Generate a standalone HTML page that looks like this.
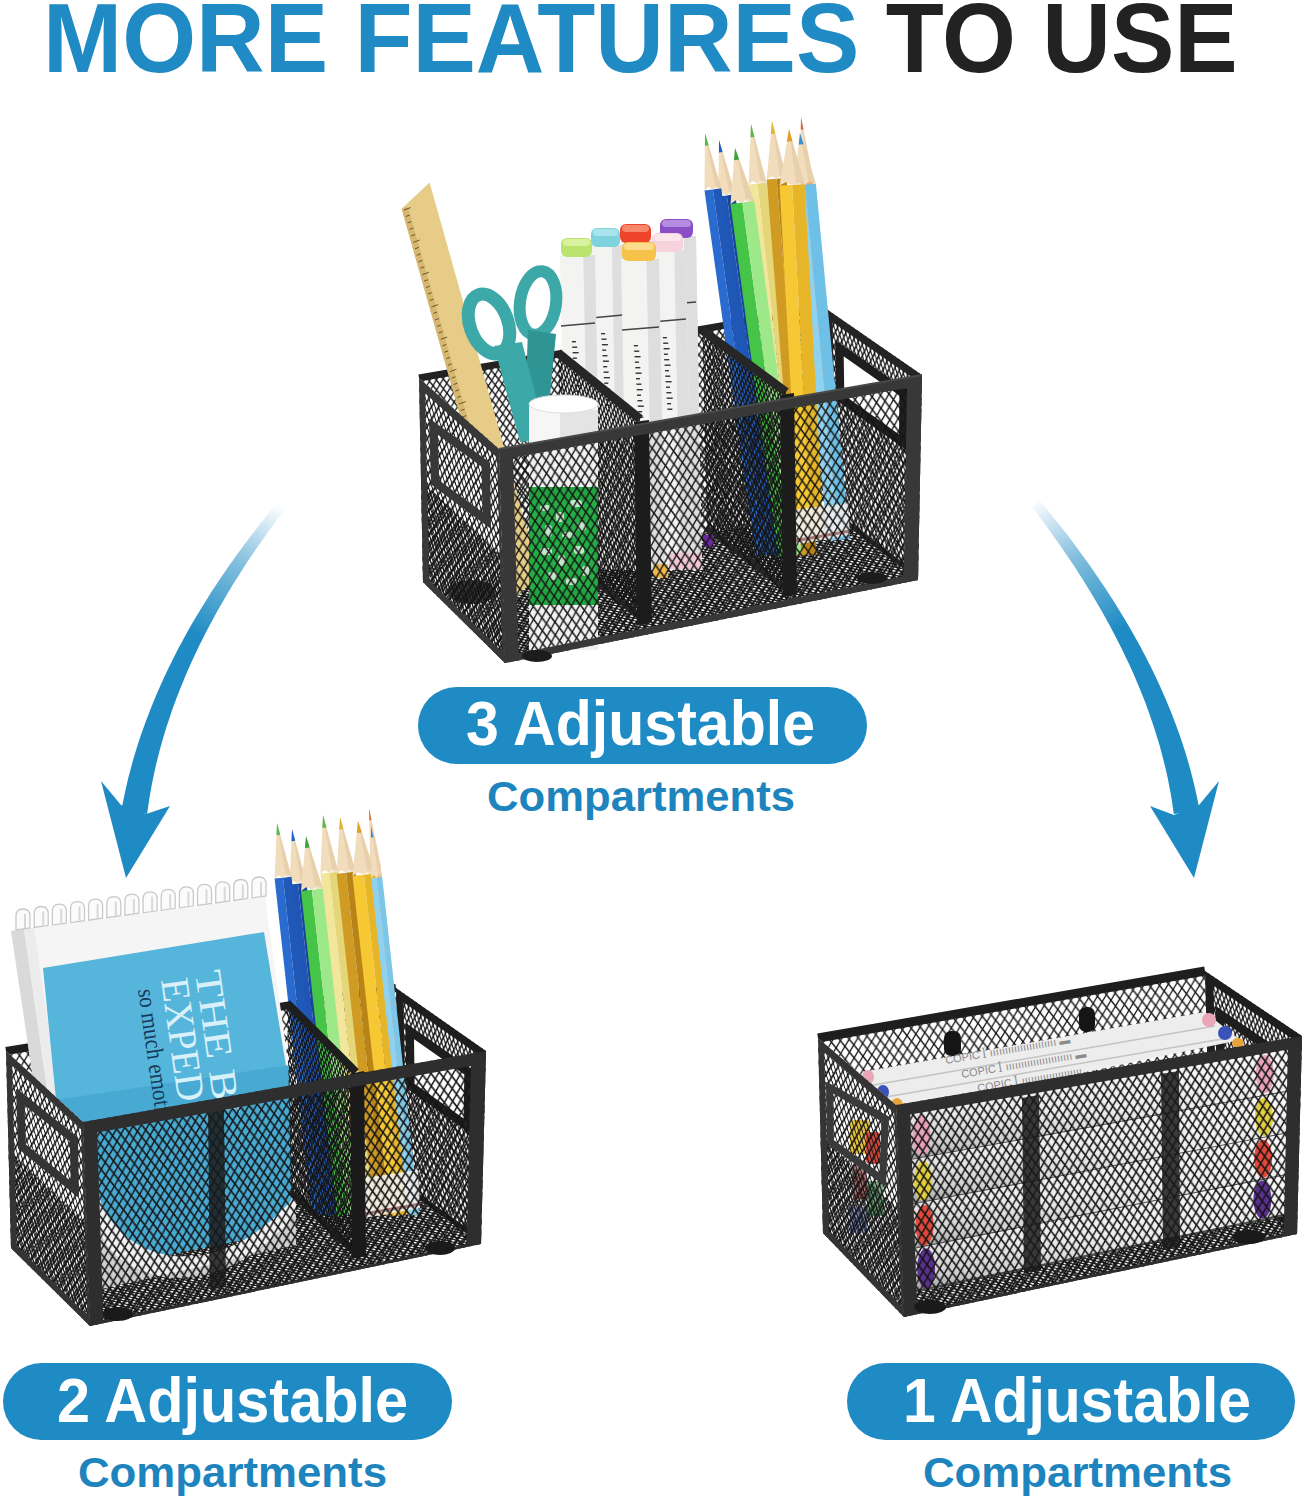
<!DOCTYPE html><html><head><meta charset="utf-8"><style>
html,body{margin:0;padding:0;background:#fff;width:1308px;height:1500px;overflow:hidden;position:relative}
.t{position:absolute;font-family:"Liberation Sans",sans-serif;font-weight:bold;white-space:nowrap;line-height:1}
</style></head><body>
<svg width="1308" height="1500" viewBox="0 0 1308 1500" style="position:absolute;left:0;top:0">
<defs><linearGradient id="ga" gradientUnits="userSpaceOnUse" x1="279" y1="505" x2="205" y2="640"><stop offset="0" stop-color="#1e8bc4" stop-opacity="0"/><stop offset="0.45" stop-color="#1e8bc4" stop-opacity="0.55"/><stop offset="1" stop-color="#1e8bc4" stop-opacity="1"/></linearGradient><linearGradient id="gb" gradientUnits="userSpaceOnUse" x1="1034" y1="500" x2="1110" y2="635"><stop offset="0" stop-color="#1e8bc4" stop-opacity="0"/><stop offset="0.45" stop-color="#1e8bc4" stop-opacity="0.55"/><stop offset="1" stop-color="#1e8bc4" stop-opacity="1"/></linearGradient><pattern id="m1" patternUnits="userSpaceOnUse" width="7" height="10" patternTransform="matrix(0.9855 -0.1699 0.0196 0.9998 419.0 378.0)"><path d="M0,0L7,10M7,0L0,10" stroke="#141414" stroke-width="1.3" fill="none"/></pattern><pattern id="m2" patternUnits="userSpaceOnUse" width="7" height="5" patternTransform="matrix(0.9855 -0.1699 0.7114 0.7028 423.0 582.0)"><path d="M0,0L7,5M7,0L0,5" stroke="#141414" stroke-width="1.7" fill="none"/></pattern><pattern id="m3" patternUnits="userSpaceOnUse" width="5" height="11" patternTransform="matrix(0.8228 0.5683 0.0196 0.9998 825.0 308.0)"><path d="M0,0L5,11M5,0L0,11" stroke="#141414" stroke-width="1.5" fill="none"/></pattern><pattern id="m4" patternUnits="userSpaceOnUse" width="4.5" height="10" patternTransform="matrix(0.8046 0.5939 0.0252 0.9997 702.0 330.0)"><path d="M0,0L4.5,10M4.5,0L0,10" stroke="#141414" stroke-width="1.5" fill="none"/></pattern><pattern id="m5" patternUnits="userSpaceOnUse" width="4.5" height="10" patternTransform="matrix(0.7790 0.6270 0.0246 0.9997 558.0 353.0)"><path d="M0,0L4.5,10M4.5,0L0,10" stroke="#141414" stroke-width="1.5" fill="none"/></pattern><pattern id="m6" patternUnits="userSpaceOnUse" width="5" height="8" patternTransform="matrix(0.7293 0.6842 0.0196 0.9998 421.0 480.0)"><path d="M0,0L5,8M5,0L0,8" stroke="#1a1a1a" stroke-width="1.5" fill="none"/></pattern><pattern id="m7" patternUnits="userSpaceOnUse" width="6.5" height="12" patternTransform="matrix(0.7479 0.6638 0.0196 0.9998 419.0 378.0)"><path d="M0,0L6.5,12M6.5,0L0,12" stroke="#141414" stroke-width="1.6" fill="none"/></pattern><pattern id="m8" patternUnits="userSpaceOnUse" width="8.6" height="13" patternTransform="matrix(0.9850 -0.1723 0.0280 0.9996 499.0 449.0)"><path d="M0,0L8.6,13M8.6,0L0,13" stroke="#141414" stroke-width="1.5" fill="none"/></pattern><pattern id="m9" patternUnits="userSpaceOnUse" width="9" height="13" patternTransform="matrix(0.9872 -0.1595 0.0254 0.9997 6.0 1051.0)"><path d="M0,0L9,13M9,0L0,13" stroke="#141414" stroke-width="1.4" fill="none"/></pattern><pattern id="m10" patternUnits="userSpaceOnUse" width="7" height="5" patternTransform="matrix(0.9875 -0.1574 0.7116 0.7026 11.0 1248.0)"><path d="M0,0L7,5M7,0L0,5" stroke="#141414" stroke-width="1.7" fill="none"/></pattern><pattern id="m11" patternUnits="userSpaceOnUse" width="5" height="11" patternTransform="matrix(0.8192 0.5735 0.0202 0.9998 396.0 988.0)"><path d="M0,0L5,11M5,0L0,11" stroke="#141414" stroke-width="1.5" fill="none"/></pattern><pattern id="m12" patternUnits="userSpaceOnUse" width="4.5" height="10" patternTransform="matrix(0.7071 0.7071 0.0212 0.9998 287.0 1003.0)"><path d="M0,0L4.5,10M4.5,0L0,10" stroke="#141414" stroke-width="1.5" fill="none"/></pattern><pattern id="m13" patternUnits="userSpaceOnUse" width="5" height="8" patternTransform="matrix(0.7231 0.6907 0.0254 0.9997 8.5 1149.5)"><path d="M0,0L5,8M5,0L0,8" stroke="#1a1a1a" stroke-width="1.5" fill="none"/></pattern><pattern id="m14" patternUnits="userSpaceOnUse" width="6.5" height="12" patternTransform="matrix(0.7352 0.6779 0.0254 0.9997 6.0 1051.0)"><path d="M0,0L6.5,12M6.5,0L0,12" stroke="#141414" stroke-width="1.6" fill="none"/></pattern><pattern id="m15" patternUnits="userSpaceOnUse" width="8.4" height="12.6" patternTransform="matrix(0.9848 -0.1735 0.0343 0.9994 83.0 1122.0)"><path d="M0,0L8.4,12.6M8.4,0L0,12.6" stroke="#141414" stroke-width="1.5" fill="none"/></pattern><pattern id="m16" patternUnits="userSpaceOnUse" width="9" height="13" patternTransform="matrix(0.9853 -0.1706 0.0256 0.9997 818.0 1038.0)"><path d="M0,0L9,13M9,0L0,13" stroke="#141414" stroke-width="1.4" fill="none"/></pattern><pattern id="m17" patternUnits="userSpaceOnUse" width="7" height="5" patternTransform="matrix(0.9862 -0.1656 0.6941 0.7198 823.0 1233.0)"><path d="M0,0L7,5M7,0L0,5" stroke="#141414" stroke-width="1.7" fill="none"/></pattern><pattern id="m18" patternUnits="userSpaceOnUse" width="5" height="11" patternTransform="matrix(0.8307 0.5567 0.0254 0.9997 1205.0 971.0)"><path d="M0,0L5,11M5,0L0,11" stroke="#141414" stroke-width="1.5" fill="none"/></pattern><linearGradient id="mk" x1="0" y1="0" x2="0" y2="1"><stop offset="0" stop-color="#fafafa"/><stop offset="0.55" stop-color="#ececec"/><stop offset="0.85" stop-color="#cfcfcf"/><stop offset="1" stop-color="#9c9c9c"/></linearGradient><pattern id="m19" patternUnits="userSpaceOnUse" width="5" height="8" patternTransform="matrix(0.7251 0.6886 0.0256 0.9997 820.5 1135.5)"><path d="M0,0L5,8M5,0L0,8" stroke="#1a1a1a" stroke-width="1.5" fill="none"/></pattern><pattern id="m20" patternUnits="userSpaceOnUse" width="6.5" height="12" patternTransform="matrix(0.7586 0.6516 0.0256 0.9997 818.0 1038.0)"><path d="M0,0L6.5,12M6.5,0L0,12" stroke="#141414" stroke-width="1.6" fill="none"/></pattern><pattern id="m21" patternUnits="userSpaceOnUse" width="8.4" height="12.6" patternTransform="matrix(0.9859 -0.1675 0.0377 0.9993 896.0 1105.0)"><path d="M0,0L8.4,12.6M8.4,0L0,12.6" stroke="#141414" stroke-width="1.5" fill="none"/></pattern></defs>
<polygon points="276.4,503.9 272.2,509.0 268.0,514.1 263.9,519.2 259.9,524.3 255.9,529.5 251.9,534.6 248.0,539.7 244.2,544.8 240.4,550.0 236.6,555.1 233.0,560.2 229.3,565.3 225.8,570.5 222.3,575.6 218.8,580.8 215.4,585.9 212.0,591.1 208.7,596.2 205.5,601.4 202.3,606.5 199.2,611.7 196.1,616.8 193.0,622.0 190.1,627.1 187.2,632.3 184.3,637.5 181.5,642.7 178.7,647.8 176.0,653.0 173.4,658.2 170.8,663.4 168.3,668.6 165.8,673.8 163.4,679.0 161.0,684.2 158.7,689.4 156.5,694.6 154.3,699.8 152.2,705.0 150.1,710.2 148.1,715.4 146.1,720.6 144.2,725.9 142.3,731.1 140.5,736.3 138.8,741.6 137.1,746.8 135.5,752.1 133.9,757.3 132.4,762.6 131.0,767.8 129.6,773.1 128.2,778.3 127.0,783.6 125.7,788.9 124.6,794.2 123.5,799.4 122.4,804.7 121.5,809.9 147.1,814.1 147.8,808.9 148.6,803.9 149.3,798.8 150.2,793.8 151.1,788.7 152.0,783.6 153.1,778.5 154.1,773.5 155.2,768.4 156.4,763.3 157.7,758.2 159.0,753.1 160.3,748.0 161.7,742.9 163.2,737.8 164.7,732.7 166.3,727.6 168.0,722.5 169.7,717.4 171.4,712.2 173.2,707.1 175.1,702.0 177.0,696.8 179.0,691.7 181.1,686.6 183.2,681.4 185.3,676.3 187.5,671.1 189.8,666.0 192.1,660.8 194.5,655.7 196.9,650.5 199.4,645.3 202.0,640.2 204.6,635.0 207.3,629.8 210.0,624.6 212.8,619.5 215.6,614.3 218.5,609.1 221.5,603.9 224.5,598.7 227.5,593.5 230.7,588.3 233.8,583.1 237.1,577.9 240.4,572.7 243.7,567.5 247.1,562.3 250.6,557.1 254.1,551.9 257.7,546.7 261.3,541.5 265.0,536.2 268.7,531.0 272.5,525.8 276.4,520.6 280.3,515.3 284.3,510.1" fill="url(#ga)" />
<path d="M101,781 L121,805 L146,814 L170,806 L126,878 Z" fill="#1e8bc4"/>
<polygon points="1031.3,506.1 1035.4,511.4 1039.4,516.7 1043.3,522.0 1047.2,527.3 1051.0,532.6 1054.8,537.9 1058.6,543.2 1062.2,548.5 1065.8,553.7 1069.4,559.0 1072.9,564.3 1076.4,569.6 1079.8,574.9 1083.1,580.1 1086.4,585.4 1089.7,590.7 1092.8,595.9 1096.0,601.2 1099.0,606.4 1102.1,611.7 1105.0,617.0 1107.9,622.2 1110.8,627.5 1113.5,632.7 1116.3,637.9 1118.9,643.2 1121.6,648.4 1124.1,653.7 1126.6,658.9 1129.1,664.1 1131.4,669.3 1133.8,674.6 1136.0,679.8 1138.2,685.0 1140.4,690.2 1142.5,695.4 1144.5,700.6 1146.5,705.8 1148.4,711.0 1150.2,716.2 1152.0,721.4 1153.7,726.5 1155.4,731.7 1157.0,736.9 1158.6,742.1 1160.1,747.2 1161.5,752.4 1162.8,757.6 1164.1,762.7 1165.4,767.9 1166.6,773.0 1167.7,778.1 1168.7,783.3 1169.7,788.4 1170.7,793.5 1171.5,798.6 1172.3,803.8 1173.1,808.9 1173.8,814.1 1199.4,809.9 1198.5,804.7 1197.4,799.3 1196.3,793.9 1195.1,788.6 1193.8,783.2 1192.5,777.9 1191.1,772.5 1189.7,767.2 1188.2,761.9 1186.6,756.5 1185.0,751.2 1183.3,745.9 1181.5,740.6 1179.7,735.3 1177.8,730.0 1175.9,724.7 1173.9,719.4 1171.8,714.1 1169.7,708.8 1167.5,703.5 1165.3,698.2 1163.0,693.0 1160.7,687.7 1158.3,682.4 1155.8,677.2 1153.3,671.9 1150.7,666.6 1148.0,661.4 1145.3,656.1 1142.6,650.9 1139.8,645.6 1136.9,640.4 1134.0,635.2 1131.0,629.9 1128.0,624.7 1124.9,619.5 1121.7,614.2 1118.5,609.0 1115.3,603.8 1112.0,598.6 1108.6,593.4 1105.2,588.1 1101.7,582.9 1098.2,577.7 1094.6,572.5 1091.0,567.3 1087.3,562.1 1083.6,556.9 1079.8,551.7 1076.0,546.5 1072.1,541.3 1068.2,536.1 1064.2,531.0 1060.1,525.8 1056.0,520.6 1051.9,515.4 1047.7,510.2 1043.4,505.1 1039.2,499.9" fill="url(#gb)" />
<path d="M1150,806 L1174,815 L1199,805 L1219,781 L1194,878 Z" fill="#1e8bc4"/>
<polygon points="419.0,378.0 825.0,308.0 829.0,512.0 423.0,582.0" fill="url(#m1)" />
<polygon points="423.0,582.0 829.0,512.0 918.0,580.0 505.0,663.0" fill="#ffffff" />
<polygon points="423.0,582.0 829.0,512.0 918.0,580.0 505.0,663.0" fill="url(#m2)" />
<line x1="419.0" y1="378.0" x2="825.0" y2="308.0" stroke="#222" stroke-width="7" />
<polygon points="825.0,308.0 922.0,375.0 918.0,580.0 829.0,512.0" fill="url(#m3)" />
<path d="M825.0,308.0L922.0,375.0 918.0,580.0 829.0,512.0Z M832.6,322.1L921.7,384.0 918.0,573.9 835.7,511.2Z" fill="#242424" fill-rule="evenodd" />
<polygon points="836.1,341.9 907.1,391.6 906.3,448.9 836.9,399.1" fill="#ffffff" />
<path d="M836.1,341.9L907.1,391.6 906.3,448.9 836.9,399.1Z M842.7,354.5L900.4,395.0 900.0,436.3 843.3,395.7Z" fill="#1e1e1e" fill-rule="evenodd" stroke="#1e1e1e" stroke-width="2" stroke-linejoin="round"/>
<polygon points="800.2,175.3 806.2,174.8 837.3,520.0 831.3,520.5" fill="#f3b383" />
<polygon points="806.2,174.8 812.2,174.2 843.2,519.5 837.3,520.0" fill="#eea070" />
<polygon points="801.0,117.0 812.2,174.2 808.9,171.5 806.2,174.8 802.9,172.0 800.2,175.3" fill="#f1dcbc" />
<polygon points="801.0,117.0 812.2,174.2 808.3,174.6" fill="#e2c49c" opacity="0.5"/>
<polygon points="801.0,117.0 803.5,129.6 800.8,129.8" fill="#d9673a" />
<polygon points="748.6,184.6 757.6,183.6 798.4,555.0 789.5,556.0" fill="#f2e69a" />
<polygon points="757.6,183.6 766.5,182.7 807.4,554.0 798.4,555.0" fill="#e6d67a" />
<polygon points="751.0,124.0 766.5,182.7 761.7,180.2 757.6,183.6 752.8,181.2 748.6,184.6" fill="#f1dcbc" />
<polygon points="751.0,124.0 766.5,182.7 760.7,183.3" fill="#e2c49c" opacity="0.5"/>
<polygon points="751.0,124.0 754.4,136.9 750.5,137.3" fill="#58b848" />
<polygon points="766.7,179.6 776.6,178.8 806.7,555.0 796.8,555.8" fill="#cf9b22" />
<polygon points="776.6,178.8 786.6,178.0 816.7,554.2 806.7,555.0" fill="#b88418" />
<polygon points="772.0,121.0 786.6,178.0 781.4,175.4 776.6,178.8 771.4,176.2 766.7,179.6" fill="#f1dcbc" />
<polygon points="772.0,121.0 786.6,178.0 780.1,178.5" fill="#e2c49c" opacity="0.5"/>
<polygon points="772.0,121.0 775.2,133.5 770.8,133.9" fill="#e2b430" />
<polygon points="794.0,185.8 804.9,184.8 838.7,540.0 827.7,541.0" fill="#8fd2ef" />
<polygon points="804.9,184.8 815.9,183.7 849.6,539.0 838.7,540.0" fill="#6ec0e6" />
<polygon points="800.0,133.0 815.9,183.7 810.1,181.3 804.9,184.8 799.2,182.3 794.0,185.8" fill="#f1dcbc" />
<polygon points="800.0,133.0 815.9,183.7 808.8,184.4" fill="#e2c49c" opacity="0.5"/>
<polygon points="800.0,133.0 803.5,144.2 798.7,144.6" fill="#3a8ed0" />
<polygon points="718.3,196.6 726.8,195.5 777.1,555.0 768.7,556.2" fill="#1f56b6" />
<polygon points="726.8,195.5 735.2,194.3 785.5,553.8 777.1,555.0" fill="#17449a" />
<polygon points="719.0,140.0 735.2,194.3 730.6,191.9 726.8,195.5 722.1,193.1 718.3,196.6" fill="#f1dcbc" />
<polygon points="719.0,140.0 735.2,194.3 729.7,195.0" fill="#e2c49c" opacity="0.5"/>
<polygon points="719.0,140.0 722.6,151.9 718.9,152.5" fill="#2060c8" />
<polygon points="704.5,190.6 712.9,189.4 764.1,555.0 755.7,556.2" fill="#2a6bd0" />
<polygon points="712.9,189.4 721.3,188.3 772.5,553.8 764.1,555.0" fill="#2058b8" />
<polygon points="705.0,133.0 721.3,188.3 716.7,185.9 712.9,189.4 708.3,187.1 704.5,190.6" fill="#f1dcbc" />
<polygon points="705.0,133.0 721.3,188.3 715.8,189.0" fill="#e2c49c" opacity="0.5"/>
<polygon points="705.0,133.0 708.6,145.2 704.9,145.7" fill="#4cbf4c" />
<polygon points="730.5,204.1 742.4,202.5 789.9,555.0 778.1,556.6" fill="#46c447" />
<polygon points="742.4,202.5 754.3,200.9 801.8,553.4 789.9,555.0" fill="#9de888" />
<polygon points="735.0,148.0 754.3,200.9 747.9,198.7 742.4,202.5 736.0,200.3 730.5,204.1" fill="#f1dcbc" />
<polygon points="735.0,148.0 754.3,200.9 746.5,201.9" fill="#e2c49c" opacity="0.5"/>
<polygon points="735.0,148.0 739.2,159.6 734.0,160.3" fill="#3aa33a" />
<polygon points="779.6,185.6 792.1,184.9 811.6,540.0 799.1,540.7" fill="#f6c834" />
<polygon points="792.1,184.9 804.6,184.2 824.1,539.3 811.6,540.0" fill="#e7b628" />
<polygon points="789.0,129.0 804.6,184.2 798.2,181.6 792.1,184.9 785.7,182.3 779.6,185.6" fill="#f1dcbc" />
<polygon points="789.0,129.0 804.6,184.2 796.4,184.7" fill="#e2c49c" opacity="0.5"/>
<polygon points="789.0,129.0 792.4,141.2 786.9,141.5" fill="#e0a020" />
<polygon points="792.0,510.0 848.0,503.0 850.0,535.0 794.0,545.0" fill="#f3efee" opacity="0.9"/>
<line x1="794.0" y1="541.0" x2="850.0" y2="531.0" stroke="#8a4a4a" stroke-width="3" opacity="0.7"/>
<polygon points="702.0,330.0 786.0,392.0 792.0,594.0 707.0,528.0" fill="url(#m4)" />
<line x1="702.0" y1="330.0" x2="786.0" y2="392.0" stroke="#262626" stroke-width="9" />
<line x1="707.0" y1="528.0" x2="792.0" y2="594.0" stroke="#262626" stroke-width="6" />
<polygon points="659,236 696,236 702,570 665,570" fill="#f3f3f1"/>
<polygon points="683.76,236 696,236 702,570 689.76,570" fill="#dedede"/>
<rect x="660" y="219" width="33" height="19" rx="6" fill="#8a4fc4"/>
<rect x="662" y="220" width="29" height="7" rx="4" fill="#b58de0"/>
<line x1="660" y1="305" x2="696" y2="302" stroke="#444" stroke-width="1.3"/>
<rect x="671.5" y="320.0" width="4" height="1.4" fill="#333"/>
<rect x="671.9" y="325.5" width="5" height="1.4" fill="#333"/>
<rect x="672.2" y="331.0" width="6" height="1.4" fill="#333"/>
<rect x="672.6" y="336.5" width="4" height="1.4" fill="#333"/>
<rect x="672.9" y="342.0" width="5" height="1.4" fill="#333"/>
<rect x="673.3" y="347.5" width="6" height="1.4" fill="#333"/>
<rect x="673.6" y="353.0" width="4" height="1.4" fill="#333"/>
<rect x="674.0" y="358.5" width="5" height="1.4" fill="#333"/>
<rect x="674.3" y="364.0" width="6" height="1.4" fill="#333"/>
<rect x="674.7" y="369.5" width="4" height="1.4" fill="#333"/>
<rect x="675.0" y="375.0" width="5" height="1.4" fill="#333"/>
<rect x="675.4" y="380.5" width="6" height="1.4" fill="#333"/>
<rect x="675.8" y="386.0" width="4" height="1.4" fill="#333"/>
<rect x="676.1" y="391.5" width="5" height="1.4" fill="#333"/>
<polygon points="619,241 654,241 660,570 625,570" fill="#f3f3f1"/>
<polygon points="642.32,241 654,241 660,570 648.32,570" fill="#dedede"/>
<rect x="620" y="224" width="31" height="19" rx="6" fill="#f0432c"/>
<rect x="622" y="225" width="27" height="7" rx="4" fill="#f7866a"/>
<line x1="620" y1="318" x2="654" y2="315" stroke="#444" stroke-width="1.3"/>
<rect x="630.9" y="333.0" width="4" height="1.4" fill="#333"/>
<rect x="631.2" y="338.5" width="5" height="1.4" fill="#333"/>
<rect x="631.6" y="344.0" width="6" height="1.4" fill="#333"/>
<rect x="631.9" y="349.5" width="4" height="1.4" fill="#333"/>
<rect x="632.2" y="355.0" width="5" height="1.4" fill="#333"/>
<rect x="632.6" y="360.5" width="6" height="1.4" fill="#333"/>
<rect x="633.0" y="366.0" width="4" height="1.4" fill="#333"/>
<rect x="633.3" y="371.5" width="5" height="1.4" fill="#333"/>
<rect x="633.6" y="377.0" width="6" height="1.4" fill="#333"/>
<rect x="634.0" y="382.5" width="4" height="1.4" fill="#333"/>
<rect x="634.4" y="388.0" width="5" height="1.4" fill="#333"/>
<rect x="634.7" y="393.5" width="6" height="1.4" fill="#333"/>
<rect x="635.1" y="399.0" width="4" height="1.4" fill="#333"/>
<rect x="635.4" y="404.5" width="5" height="1.4" fill="#333"/>
<polygon points="590,245 623,245 629,570 596,570" fill="#f3f3f1"/>
<polygon points="611.88,245 623,245 629,570 617.88,570" fill="#dedede"/>
<rect x="591" y="228" width="29" height="19" rx="6" fill="#7fd3df"/>
<rect x="593" y="229" width="25" height="7" rx="4" fill="#a9e4ec"/>
<line x1="591" y1="318" x2="623" y2="315" stroke="#444" stroke-width="1.3"/>
<rect x="601.1" y="333.0" width="4" height="1.4" fill="#333"/>
<rect x="601.5" y="338.5" width="5" height="1.4" fill="#333"/>
<rect x="601.9" y="344.0" width="6" height="1.4" fill="#333"/>
<rect x="602.2" y="349.5" width="4" height="1.4" fill="#333"/>
<rect x="602.5" y="355.0" width="5" height="1.4" fill="#333"/>
<rect x="602.9" y="360.5" width="6" height="1.4" fill="#333"/>
<rect x="603.2" y="366.0" width="4" height="1.4" fill="#333"/>
<rect x="603.6" y="371.5" width="5" height="1.4" fill="#333"/>
<rect x="603.9" y="377.0" width="6" height="1.4" fill="#333"/>
<rect x="604.3" y="382.5" width="4" height="1.4" fill="#333"/>
<rect x="604.6" y="388.0" width="5" height="1.4" fill="#333"/>
<rect x="605.0" y="393.5" width="6" height="1.4" fill="#333"/>
<rect x="605.4" y="399.0" width="4" height="1.4" fill="#333"/>
<rect x="605.7" y="404.5" width="5" height="1.4" fill="#333"/>
<polygon points="651,250 686,250 692,570 657,570" fill="#f3f3f1"/>
<polygon points="674.32,250 686,250 692,570 680.32,570" fill="#dedede"/>
<rect x="652" y="233" width="31" height="19" rx="6" fill="#f6d3dc"/>
<rect x="654" y="234" width="27" height="7" rx="4" fill="#fbe6ec"/>
<line x1="652" y1="322" x2="686" y2="319" stroke="#444" stroke-width="1.3"/>
<rect x="662.9" y="337.0" width="4" height="1.4" fill="#333"/>
<rect x="663.2" y="342.5" width="5" height="1.4" fill="#333"/>
<rect x="663.6" y="348.0" width="6" height="1.4" fill="#333"/>
<rect x="663.9" y="353.5" width="4" height="1.4" fill="#333"/>
<rect x="664.2" y="359.0" width="5" height="1.4" fill="#333"/>
<rect x="664.6" y="364.5" width="6" height="1.4" fill="#333"/>
<rect x="665.0" y="370.0" width="4" height="1.4" fill="#333"/>
<rect x="665.3" y="375.5" width="5" height="1.4" fill="#333"/>
<rect x="665.6" y="381.0" width="6" height="1.4" fill="#333"/>
<rect x="666.0" y="386.5" width="4" height="1.4" fill="#333"/>
<rect x="666.4" y="392.0" width="5" height="1.4" fill="#333"/>
<rect x="666.7" y="397.5" width="6" height="1.4" fill="#333"/>
<rect x="667.1" y="403.0" width="4" height="1.4" fill="#333"/>
<rect x="667.4" y="408.5" width="5" height="1.4" fill="#333"/>
<polygon points="560,255 595,255 601,570 566,570" fill="#f3f3f1"/>
<polygon points="583.32,255 595,255 601,570 589.32,570" fill="#dedede"/>
<rect x="561" y="238" width="31" height="19" rx="6" fill="#b9e56e"/>
<rect x="563" y="239" width="27" height="7" rx="4" fill="#d9f2a0"/>
<line x1="561" y1="326" x2="595" y2="323" stroke="#444" stroke-width="1.3"/>
<rect x="571.9" y="341.0" width="4" height="1.4" fill="#333"/>
<rect x="572.2" y="346.5" width="5" height="1.4" fill="#333"/>
<rect x="572.6" y="352.0" width="6" height="1.4" fill="#333"/>
<rect x="572.9" y="357.5" width="4" height="1.4" fill="#333"/>
<rect x="573.2" y="363.0" width="5" height="1.4" fill="#333"/>
<rect x="573.6" y="368.5" width="6" height="1.4" fill="#333"/>
<rect x="574.0" y="374.0" width="4" height="1.4" fill="#333"/>
<rect x="574.3" y="379.5" width="5" height="1.4" fill="#333"/>
<rect x="574.6" y="385.0" width="6" height="1.4" fill="#333"/>
<rect x="575.0" y="390.5" width="4" height="1.4" fill="#333"/>
<rect x="575.4" y="396.0" width="5" height="1.4" fill="#333"/>
<rect x="575.7" y="401.5" width="6" height="1.4" fill="#333"/>
<rect x="576.1" y="407.0" width="4" height="1.4" fill="#333"/>
<rect x="576.4" y="412.5" width="5" height="1.4" fill="#333"/>
<polygon points="621,259 659,259 665,570 627,570" fill="#f3f3f1"/>
<polygon points="646.48,259 659,259 665,570 652.48,570" fill="#dedede"/>
<rect x="622" y="242" width="34" height="19" rx="6" fill="#f7c24a"/>
<rect x="624" y="243" width="30" height="7" rx="4" fill="#fbdc8c"/>
<line x1="622" y1="330" x2="659" y2="327" stroke="#444" stroke-width="1.3"/>
<rect x="633.9" y="345.0" width="4" height="1.4" fill="#333"/>
<rect x="634.2" y="350.5" width="5" height="1.4" fill="#333"/>
<rect x="634.6" y="356.0" width="6" height="1.4" fill="#333"/>
<rect x="634.9" y="361.5" width="4" height="1.4" fill="#333"/>
<rect x="635.3" y="367.0" width="5" height="1.4" fill="#333"/>
<rect x="635.6" y="372.5" width="6" height="1.4" fill="#333"/>
<rect x="636.0" y="378.0" width="4" height="1.4" fill="#333"/>
<rect x="636.4" y="383.5" width="5" height="1.4" fill="#333"/>
<rect x="636.7" y="389.0" width="6" height="1.4" fill="#333"/>
<rect x="637.0" y="394.5" width="4" height="1.4" fill="#333"/>
<rect x="637.4" y="400.0" width="5" height="1.4" fill="#333"/>
<rect x="637.8" y="405.5" width="6" height="1.4" fill="#333"/>
<rect x="638.1" y="411.0" width="4" height="1.4" fill="#333"/>
<rect x="638.4" y="416.5" width="5" height="1.4" fill="#333"/>
<rect x="653" y="564" width="15" height="14" fill="#f2b84a"/><rect x="669" y="553" width="32" height="16" fill="#f2c7d3"/><rect x="703" y="535" width="10" height="12" fill="#6a2aa0"/>
<polygon points="558.0,353.0 640.0,419.0 646.0,622.0 563.0,556.0" fill="url(#m5)" />
<line x1="558.0" y1="353.0" x2="640.0" y2="419.0" stroke="#262626" stroke-width="9" />
<line x1="563.0" y1="556.0" x2="646.0" y2="622.0" stroke="#262626" stroke-width="6" />
<polygon points="401.6,208.7 429.6,182.6 540.0,575.0 512.0,600.0" fill="#e6cc86" />
<polygon points="401.6,208.7 408.0,207.0 518.0,597.0 512.0,600.0" fill="#c9a862" opacity="0.6"/>
<line x1="404.0" y1="210.0" x2="410.6" y2="207.6" stroke="#5c4a22" stroke-width="0.9"/>
<line x1="405.8" y1="216.5" x2="409.6" y2="215.1" stroke="#5c4a22" stroke-width="0.9"/>
<line x1="407.7" y1="222.9" x2="411.4" y2="221.6" stroke="#5c4a22" stroke-width="0.9"/>
<line x1="409.5" y1="229.4" x2="413.3" y2="228.0" stroke="#5c4a22" stroke-width="0.9"/>
<line x1="411.3" y1="235.9" x2="415.1" y2="234.5" stroke="#5c4a22" stroke-width="0.9"/>
<line x1="413.2" y1="242.3" x2="419.7" y2="240.0" stroke="#5c4a22" stroke-width="0.9"/>
<line x1="415.0" y1="248.8" x2="418.8" y2="247.4" stroke="#5c4a22" stroke-width="0.9"/>
<line x1="416.8" y1="255.3" x2="420.6" y2="253.9" stroke="#5c4a22" stroke-width="0.9"/>
<line x1="418.7" y1="261.7" x2="422.4" y2="260.4" stroke="#5c4a22" stroke-width="0.9"/>
<line x1="420.5" y1="268.2" x2="424.3" y2="266.8" stroke="#5c4a22" stroke-width="0.9"/>
<line x1="422.3" y1="274.7" x2="428.9" y2="272.3" stroke="#5c4a22" stroke-width="0.9"/>
<line x1="424.2" y1="281.1" x2="427.9" y2="279.8" stroke="#5c4a22" stroke-width="0.9"/>
<line x1="426.0" y1="287.6" x2="429.8" y2="286.2" stroke="#5c4a22" stroke-width="0.9"/>
<line x1="427.8" y1="294.1" x2="431.6" y2="292.7" stroke="#5c4a22" stroke-width="0.9"/>
<line x1="429.7" y1="300.5" x2="433.4" y2="299.2" stroke="#5c4a22" stroke-width="0.9"/>
<line x1="431.5" y1="307.0" x2="438.1" y2="304.6" stroke="#5c4a22" stroke-width="0.9"/>
<line x1="433.3" y1="313.5" x2="437.1" y2="312.1" stroke="#5c4a22" stroke-width="0.9"/>
<line x1="435.2" y1="319.9" x2="438.9" y2="318.6" stroke="#5c4a22" stroke-width="0.9"/>
<line x1="437.0" y1="326.4" x2="440.8" y2="325.0" stroke="#5c4a22" stroke-width="0.9"/>
<line x1="438.8" y1="332.9" x2="442.6" y2="331.5" stroke="#5c4a22" stroke-width="0.9"/>
<line x1="440.7" y1="339.3" x2="447.2" y2="337.0" stroke="#5c4a22" stroke-width="0.9"/>
<line x1="442.5" y1="345.8" x2="446.3" y2="344.4" stroke="#5c4a22" stroke-width="0.9"/>
<line x1="444.3" y1="352.3" x2="448.1" y2="350.9" stroke="#5c4a22" stroke-width="0.9"/>
<line x1="446.2" y1="358.7" x2="449.9" y2="357.4" stroke="#5c4a22" stroke-width="0.9"/>
<line x1="448.0" y1="365.2" x2="451.8" y2="363.8" stroke="#5c4a22" stroke-width="0.9"/>
<line x1="449.8" y1="371.7" x2="456.4" y2="369.3" stroke="#5c4a22" stroke-width="0.9"/>
<line x1="451.7" y1="378.1" x2="455.4" y2="376.8" stroke="#5c4a22" stroke-width="0.9"/>
<line x1="453.5" y1="384.6" x2="457.3" y2="383.2" stroke="#5c4a22" stroke-width="0.9"/>
<line x1="455.3" y1="391.1" x2="459.1" y2="389.7" stroke="#5c4a22" stroke-width="0.9"/>
<line x1="457.2" y1="397.5" x2="460.9" y2="396.2" stroke="#5c4a22" stroke-width="0.9"/>
<line x1="459.0" y1="404.0" x2="465.6" y2="401.6" stroke="#5c4a22" stroke-width="0.9"/>
<line x1="460.8" y1="410.5" x2="464.6" y2="409.1" stroke="#5c4a22" stroke-width="0.9"/>
<line x1="462.7" y1="416.9" x2="466.4" y2="415.6" stroke="#5c4a22" stroke-width="0.9"/>
<line x1="464.5" y1="423.4" x2="468.3" y2="422.0" stroke="#5c4a22" stroke-width="0.9"/>
<line x1="466.3" y1="429.9" x2="470.1" y2="428.5" stroke="#5c4a22" stroke-width="0.9"/>
<line x1="468.2" y1="436.3" x2="474.7" y2="434.0" stroke="#5c4a22" stroke-width="0.9"/>
<line x1="470.0" y1="442.8" x2="473.8" y2="441.4" stroke="#5c4a22" stroke-width="0.9"/>
<line x1="471.8" y1="449.3" x2="475.6" y2="447.9" stroke="#5c4a22" stroke-width="0.9"/>
<line x1="473.7" y1="455.7" x2="477.4" y2="454.4" stroke="#5c4a22" stroke-width="0.9"/>
<line x1="475.5" y1="462.2" x2="479.3" y2="460.8" stroke="#5c4a22" stroke-width="0.9"/>
<line x1="477.3" y1="468.7" x2="483.9" y2="466.3" stroke="#5c4a22" stroke-width="0.9"/>
<line x1="479.2" y1="475.1" x2="482.9" y2="473.8" stroke="#5c4a22" stroke-width="0.9"/>
<line x1="481.0" y1="481.6" x2="484.8" y2="480.2" stroke="#5c4a22" stroke-width="0.9"/>
<line x1="482.8" y1="488.1" x2="486.6" y2="486.7" stroke="#5c4a22" stroke-width="0.9"/>
<line x1="484.7" y1="494.5" x2="488.4" y2="493.2" stroke="#5c4a22" stroke-width="0.9"/>
<line x1="486.5" y1="501.0" x2="493.1" y2="498.6" stroke="#5c4a22" stroke-width="0.9"/>
<line x1="488.3" y1="507.5" x2="492.1" y2="506.1" stroke="#5c4a22" stroke-width="0.9"/>
<line x1="490.2" y1="513.9" x2="493.9" y2="512.6" stroke="#5c4a22" stroke-width="0.9"/>
<line x1="492.0" y1="520.4" x2="495.8" y2="519.0" stroke="#5c4a22" stroke-width="0.9"/>
<line x1="493.8" y1="526.9" x2="497.6" y2="525.5" stroke="#5c4a22" stroke-width="0.9"/>
<line x1="495.7" y1="533.3" x2="502.2" y2="531.0" stroke="#5c4a22" stroke-width="0.9"/>
<line x1="497.5" y1="539.8" x2="501.3" y2="538.4" stroke="#5c4a22" stroke-width="0.9"/>
<line x1="499.3" y1="546.3" x2="503.1" y2="544.9" stroke="#5c4a22" stroke-width="0.9"/>
<line x1="501.2" y1="552.7" x2="504.9" y2="551.4" stroke="#5c4a22" stroke-width="0.9"/>
<line x1="503.0" y1="559.2" x2="506.8" y2="557.8" stroke="#5c4a22" stroke-width="0.9"/>
<line x1="504.8" y1="565.7" x2="511.4" y2="563.3" stroke="#5c4a22" stroke-width="0.9"/>
<line x1="506.7" y1="572.1" x2="510.4" y2="570.8" stroke="#5c4a22" stroke-width="0.9"/>
<line x1="508.5" y1="578.6" x2="512.3" y2="577.2" stroke="#5c4a22" stroke-width="0.9"/>
<line x1="510.3" y1="585.1" x2="514.1" y2="583.7" stroke="#5c4a22" stroke-width="0.9"/>
<line x1="512.2" y1="591.5" x2="515.9" y2="590.2" stroke="#5c4a22" stroke-width="0.9"/>
<ellipse cx="489" cy="324" rx="19" ry="31" transform="rotate(-20 489 324)" fill="none" stroke="#3da8a8" stroke-width="13"/>
<ellipse cx="538" cy="303" rx="18" ry="32" transform="rotate(8 538 303)" fill="none" stroke="#3da8a8" stroke-width="12"/>
<polygon points="528.0,330.0 556.0,334.0 550.0,396.0 538.0,440.0 524.0,440.0" fill="#2f9494" />
<polygon points="494.0,346.0 522.0,342.0 542.0,420.0 538.0,440.0 520.0,442.0" fill="#3da8a8" />
<rect x="529" y="430" width="69" height="220" fill="#f1f1f1"/>
<rect x="529" y="487" width="69" height="118" fill="#21a540"/>
<rect x="530" y="500" width="66" height="90" fill="#2bb84c" opacity="0.5"/>
<rect x="540" y="505" width="10" height="6" rx="3" fill="#eaf5ea" opacity="0.8"/>
<rect x="556" y="512" width="8" height="10" rx="3" fill="#eaf5ea" opacity="0.8"/>
<rect x="570" y="500" width="12" height="7" rx="3" fill="#eaf5ea" opacity="0.8"/>
<rect x="545" y="525" width="7" height="12" rx="3" fill="#eaf5ea" opacity="0.8"/>
<rect x="562" y="532" width="12" height="6" rx="3" fill="#eaf5ea" opacity="0.8"/>
<rect x="578" y="522" width="8" height="9" rx="3" fill="#eaf5ea" opacity="0.8"/>
<rect x="540" y="548" width="12" height="7" rx="3" fill="#eaf5ea" opacity="0.8"/>
<rect x="558" y="555" width="7" height="11" rx="3" fill="#eaf5ea" opacity="0.8"/>
<rect x="574" y="546" width="10" height="8" rx="3" fill="#eaf5ea" opacity="0.8"/>
<rect x="548" y="572" width="9" height="8" rx="3" fill="#eaf5ea" opacity="0.8"/>
<rect x="566" y="578" width="11" height="7" rx="3" fill="#eaf5ea" opacity="0.8"/>
<rect x="582" y="566" width="7" height="10" rx="3" fill="#eaf5ea" opacity="0.8"/>
<rect x="529" y="400" width="69" height="42" rx="8" fill="#f6f6f6"/>
<rect x="560" y="410" width="38" height="32" fill="#e4e4e4"/>
<ellipse cx="563.5" cy="404" rx="34.5" ry="9" fill="#ffffff" stroke="#dedede" stroke-width="1"/>
<polygon points="419.0,378.0 499.0,449.0 505.0,663.0 423.0,582.0" fill="#ffffff" />
<polygon points="421.0,480.0 502.0,556.0 505.0,663.0 423.0,582.0" fill="url(#m6)" />
<polygon points="419.0,378.0 499.0,449.0 505.0,663.0 423.0,582.0" fill="url(#m7)" />
<ellipse cx="472" cy="592" rx="24" ry="12" fill="#151515" opacity="0.8"/>
<path d="M419.0,378.0L499.0,449.0 505.0,663.0 423.0,582.0Z M425.2,393.3L497.0,457.5 502.5,652.3 429.0,580.0Z" fill="#383838" fill-rule="evenodd" />
<path d="M430.0,420.0L489.0,463.0 490.0,527.0 432.0,484.0Z M436.7,432.7L482.7,466.3 483.5,514.3 438.1,480.7Z" fill="#383838" fill-rule="evenodd" stroke="#383838" stroke-width="2" stroke-linejoin="round"/>
<polygon points="499.0,449.0 922.0,375.0 918.0,580.0 505.0,663.0" fill="url(#m8)" />
<polygon points="634.0,422.0 649.0,420.0 652.0,622.0 637.0,625.0" fill="#1c1c1c" />
<polygon points="780.0,395.0 794.0,393.0 797.0,594.0 783.0,597.0" fill="#1c1c1c" />
<path d="M499.0,449.0L922.0,375.0 918.0,580.0 505.0,663.0Z M513.1,457.6L907.0,388.1 903.7,576.2 518.3,653.3Z" fill="#383838" fill-rule="evenodd" />
<path d="M499.0,449.0 922.0,375.0" stroke="#4a4a4a" stroke-width="2" fill="none"/>
<ellipse cx="537" cy="656" rx="15" ry="6" fill="#1c1c1c"/>
<ellipse cx="872" cy="578" rx="15" ry="6" fill="#1c1c1c"/>
<polygon points="6.0,1051.0 396.0,988.0 400.0,1186.0 11.0,1248.0" fill="url(#m9)" />
<polygon points="11.0,1248.0 400.0,1186.0 481.0,1244.0 90.0,1326.0" fill="url(#m10)" />
<line x1="6.0" y1="1051.0" x2="396.0" y2="988.0" stroke="#1e1e1e" stroke-width="8" />
<polygon points="396.0,988.0 486.0,1051.0 481.0,1244.0 400.0,1186.0" fill="url(#m11)" />
<path d="M396.0,988.0L486.0,1051.0 481.0,1244.0 400.0,1186.0Z M403.5,1002.1L485.7,1059.7 481.1,1238.1 406.5,1184.8Z" fill="#1e1e1e" fill-rule="evenodd" />
<polygon points="406.4,1024.5 472.0,1070.6 470.8,1132.6 407.3,1087.7" fill="#ffffff" />
<path d="M406.4,1024.5L472.0,1070.6 470.8,1132.6 407.3,1087.7Z M413.0,1037.1L465.3,1073.9 464.6,1120.3 413.6,1084.2Z" fill="#1e1e1e" fill-rule="evenodd" stroke="#1e1e1e" stroke-width="2" stroke-linejoin="round"/>
<polygon points="11.0,931.0 265.0,897.0 292.0,1090.0 40.0,1125.0" fill="#f5f5f5" />
<polygon points="11.0,931.0 24.0,929.0 52.0,1123.0 40.0,1125.0" fill="#d9d9d9" />
<polygon points="24.0,929.0 34.0,928.0 62.0,1121.0 52.0,1123.0" fill="#ececec" />
<path d="M16.0,930.0 L16.0,916.0 Q16.0,909.0 23.0,909.0 Q30.0,909.0 30.0,916.0 L30.0,928.0 Z" fill="#fbfbfb" stroke="#c9c9c9" stroke-width="1.3"/>
<line x1="25.0" y1="914.0" x2="25.0" y2="928.0" stroke="#d8d8d8" stroke-width="2"/>
<path d="M34.2,927.5 L34.2,913.5 Q34.2,906.5 41.2,906.5 Q48.2,906.5 48.2,913.5 L48.2,925.5 Z" fill="#fbfbfb" stroke="#c9c9c9" stroke-width="1.3"/>
<line x1="43.2" y1="911.5" x2="43.2" y2="925.5" stroke="#d8d8d8" stroke-width="2"/>
<path d="M52.3,925.1 L52.3,911.1 Q52.3,904.1 59.3,904.1 Q66.3,904.1 66.3,911.1 L66.3,923.1 Z" fill="#fbfbfb" stroke="#c9c9c9" stroke-width="1.3"/>
<line x1="61.3" y1="909.1" x2="61.3" y2="923.1" stroke="#d8d8d8" stroke-width="2"/>
<path d="M70.5,922.6 L70.5,908.6 Q70.5,901.6 77.5,901.6 Q84.5,901.6 84.5,908.6 L84.5,920.6 Z" fill="#fbfbfb" stroke="#c9c9c9" stroke-width="1.3"/>
<line x1="79.5" y1="906.6" x2="79.5" y2="920.6" stroke="#d8d8d8" stroke-width="2"/>
<path d="M88.6,920.2 L88.6,906.2 Q88.6,899.2 95.6,899.2 Q102.6,899.2 102.6,906.2 L102.6,918.2 Z" fill="#fbfbfb" stroke="#c9c9c9" stroke-width="1.3"/>
<line x1="97.6" y1="904.2" x2="97.6" y2="918.2" stroke="#d8d8d8" stroke-width="2"/>
<path d="M106.8,917.7 L106.8,903.7 Q106.8,896.7 113.8,896.7 Q120.8,896.7 120.8,903.7 L120.8,915.7 Z" fill="#fbfbfb" stroke="#c9c9c9" stroke-width="1.3"/>
<line x1="115.8" y1="901.7" x2="115.8" y2="915.7" stroke="#d8d8d8" stroke-width="2"/>
<path d="M124.9,915.2 L124.9,901.2 Q124.9,894.2 131.9,894.2 Q138.9,894.2 138.9,901.2 L138.9,913.2 Z" fill="#fbfbfb" stroke="#c9c9c9" stroke-width="1.3"/>
<line x1="133.9" y1="899.2" x2="133.9" y2="913.2" stroke="#d8d8d8" stroke-width="2"/>
<path d="M143.1,912.8 L143.1,898.8 Q143.1,891.8 150.1,891.8 Q157.1,891.8 157.1,898.8 L157.1,910.8 Z" fill="#fbfbfb" stroke="#c9c9c9" stroke-width="1.3"/>
<line x1="152.1" y1="896.8" x2="152.1" y2="910.8" stroke="#d8d8d8" stroke-width="2"/>
<path d="M161.2,910.3 L161.2,896.3 Q161.2,889.3 168.2,889.3 Q175.2,889.3 175.2,896.3 L175.2,908.3 Z" fill="#fbfbfb" stroke="#c9c9c9" stroke-width="1.3"/>
<line x1="170.2" y1="894.3" x2="170.2" y2="908.3" stroke="#d8d8d8" stroke-width="2"/>
<path d="M179.4,907.8 L179.4,893.8 Q179.4,886.8 186.4,886.8 Q193.4,886.8 193.4,893.8 L193.4,905.8 Z" fill="#fbfbfb" stroke="#c9c9c9" stroke-width="1.3"/>
<line x1="188.4" y1="891.8" x2="188.4" y2="905.8" stroke="#d8d8d8" stroke-width="2"/>
<path d="M197.5,905.4 L197.5,891.4 Q197.5,884.4 204.5,884.4 Q211.5,884.4 211.5,891.4 L211.5,903.4 Z" fill="#fbfbfb" stroke="#c9c9c9" stroke-width="1.3"/>
<line x1="206.5" y1="889.4" x2="206.5" y2="903.4" stroke="#d8d8d8" stroke-width="2"/>
<path d="M215.7,902.9 L215.7,888.9 Q215.7,881.9 222.7,881.9 Q229.7,881.9 229.7,888.9 L229.7,900.9 Z" fill="#fbfbfb" stroke="#c9c9c9" stroke-width="1.3"/>
<line x1="224.7" y1="886.9" x2="224.7" y2="900.9" stroke="#d8d8d8" stroke-width="2"/>
<path d="M233.8,900.5 L233.8,886.5 Q233.8,879.5 240.8,879.5 Q247.8,879.5 247.8,886.5 L247.8,898.5 Z" fill="#fbfbfb" stroke="#c9c9c9" stroke-width="1.3"/>
<line x1="242.8" y1="884.5" x2="242.8" y2="898.5" stroke="#d8d8d8" stroke-width="2"/>
<path d="M252.0,898.0 L252.0,884.0 Q252.0,877.0 259.0,877.0 Q266.0,877.0 266.0,884.0 L266.0,896.0 Z" fill="#fbfbfb" stroke="#c9c9c9" stroke-width="1.3"/>
<line x1="261.0" y1="882.0" x2="261.0" y2="896.0" stroke="#d8d8d8" stroke-width="2"/>
<polygon points="43.0,968.0 264.0,932.0 290.0,1090.0 59.0,1130.0" fill="#56b5da" />
<polygon points="55.0,1100.0 290.0,1065.0 292.0,1230.0 95.0,1270.0" fill="#48aad2" />
<path d="M97,1190 C115,1262 215,1292 296,1195 L296,1214 C215,1312 108,1282 97,1222 Z" fill="#f2f2f2"/>
<path d="M97,1222 C108,1282 215,1312 296,1214 L296,1245 L97,1290 Z" fill="#d0d0d0"/>
<text transform="translate(195,972) rotate(82)" font-family="Liberation Serif" font-size="38" fill="#d8f0f9" textLength="146" lengthAdjust="spacingAndGlyphs">THE BI</text>
<text transform="translate(161,980) rotate(82)" font-family="Liberation Serif" font-size="40" fill="#d8f0f9" textLength="124" lengthAdjust="spacingAndGlyphs">EXPED</text>
<text transform="translate(138,990) rotate(82)" font-family="Liberation Serif" font-size="24" fill="#163a5c" textLength="124" lengthAdjust="spacingAndGlyphs">so much emoti</text>
<polygon points="370.2,864.2 375.1,863.7 413.8,1215.0 408.8,1215.5" fill="#f3b383" />
<polygon points="375.1,863.7 380.1,863.1 418.7,1214.5 413.8,1215.0" fill="#f3b383" />
<polygon points="369.0,808.0 380.1,863.1 377.3,860.4 375.1,863.7 372.3,861.0 370.2,864.2" fill="#f1dcbc" />
<polygon points="369.0,808.0 380.1,863.1 376.9,863.5" fill="#e2c49c" opacity="0.5"/>
<polygon points="369.0,808.0 371.4,820.1 369.3,820.4" fill="#d9673a" />
<polygon points="320.4,873.6 329.3,872.7 367.0,1215.0 358.1,1216.0" fill="#f2e69a" />
<polygon points="329.3,872.7 338.3,871.7 375.9,1214.0 367.0,1215.0" fill="#e6d67a" />
<polygon points="323.0,815.0 338.3,871.7 333.5,869.2 329.3,872.7 324.5,870.2 320.4,873.6" fill="#f1dcbc" />
<polygon points="323.0,815.0 338.3,871.7 332.5,872.3" fill="#e2c49c" opacity="0.5"/>
<polygon points="323.0,815.0 326.4,827.5 322.4,827.9" fill="#58b848" />
<polygon points="336.7,873.7 346.1,872.7 383.8,1215.0 374.3,1216.0" fill="#cf9b22" />
<polygon points="346.1,872.7 355.6,871.6 393.2,1214.0 383.8,1215.0" fill="#b88418" />
<polygon points="340.0,817.0 355.6,871.6 350.5,869.2 346.1,872.7 341.1,870.2 336.7,873.7" fill="#f1dcbc" />
<polygon points="340.0,817.0 355.6,871.6 349.4,872.3" fill="#e2c49c" opacity="0.5"/>
<polygon points="340.0,817.0 343.4,829.0 339.3,829.5" fill="#e2b430" />
<polygon points="289.6,884.6 298.0,883.7 334.5,1215.0 326.0,1215.9" fill="#1f56b6" />
<polygon points="298.0,883.7 306.5,882.7 342.9,1214.1 334.5,1215.0" fill="#17449a" />
<polygon points="292.0,829.0 306.5,882.7 301.9,880.2 298.0,883.7 293.5,881.2 289.6,884.6" fill="#f1dcbc" />
<polygon points="292.0,829.0 306.5,882.7 301.0,883.3" fill="#e2c49c" opacity="0.5"/>
<polygon points="292.0,829.0 295.2,840.8 291.5,841.2" fill="#2060c8" />
<polygon points="274.6,878.6 283.0,877.7 320.1,1215.0 311.7,1215.9" fill="#2a6bd0" />
<polygon points="283.0,877.7 291.5,876.7 328.6,1214.1 320.1,1215.0" fill="#2058b8" />
<polygon points="277.0,823.0 291.5,876.7 286.9,874.2 283.0,877.7 278.5,875.2 274.6,878.6" fill="#f1dcbc" />
<polygon points="277.0,823.0 291.5,876.7 286.0,877.3" fill="#e2c49c" opacity="0.5"/>
<polygon points="277.0,823.0 280.2,834.8 276.5,835.2" fill="#4cbf4c" />
<polygon points="301.0,890.9 311.9,889.7 347.7,1215.0 336.8,1216.2" fill="#46c447" />
<polygon points="311.9,889.7 322.8,888.5 358.6,1213.8 347.7,1215.0" fill="#9de888" />
<polygon points="306.0,836.0 322.8,888.5 317.0,886.1 311.9,889.7 306.1,887.3 301.0,890.9" fill="#f1dcbc" />
<polygon points="306.0,836.0 322.8,888.5 315.7,889.3" fill="#e2c49c" opacity="0.5"/>
<polygon points="306.0,836.0 309.7,847.5 304.9,848.1" fill="#3aa33a" />
<polygon points="352.5,875.9 363.9,874.7 401.3,1215.0 389.9,1216.3" fill="#f6c834" />
<polygon points="363.9,874.7 375.3,873.4 412.8,1213.7 401.3,1215.0" fill="#e7b628" />
<polygon points="358.0,821.0 375.3,873.4 369.3,871.1 363.9,874.7 357.9,872.3 352.5,875.9" fill="#f1dcbc" />
<polygon points="358.0,821.0 375.3,873.4 367.9,874.2" fill="#e2c49c" opacity="0.5"/>
<polygon points="358.0,821.0 361.8,832.5 356.8,833.1" fill="#e0a020" />
<polygon points="371.2,878.3 376.7,877.7 413.8,1215.0 408.3,1215.6" fill="#8fd2ef" />
<polygon points="376.7,877.7 382.2,877.1 419.3,1214.4 413.8,1215.0" fill="#7cc6e8" />
<polygon points="371.0,826.0 382.2,877.1 379.1,874.4 376.7,877.7 373.6,875.0 371.2,878.3" fill="#f1dcbc" />
<polygon points="371.0,826.0 382.2,877.1 378.6,877.5" fill="#e2c49c" opacity="0.5"/>
<polygon points="371.0,826.0 373.5,837.2 371.0,837.5" fill="#3a8ed0" />
<polygon points="362.0,1178.0 418.0,1170.0 420.0,1208.0 364.0,1218.0" fill="#f3efee" opacity="0.9"/>
<line x1="364.0" y1="1214.0" x2="420.0" y2="1204.0" stroke="#8a4a4a" stroke-width="3" opacity="0.7"/>
<polygon points="287.0,1003.0 356.0,1072.0 360.0,1258.0 291.0,1192.0" fill="url(#m12)" />
<line x1="287.0" y1="1003.0" x2="356.0" y2="1072.0" stroke="#1e1e1e" stroke-width="8" />
<line x1="291.0" y1="1192.0" x2="360.0" y2="1258.0" stroke="#1e1e1e" stroke-width="6" />
<polygon points="6.0,1051.0 83.0,1122.0 90.0,1326.0 11.0,1248.0" fill="#ffffff" />
<polygon points="8.5,1149.5 86.5,1224.0 90.0,1326.0 11.0,1248.0" fill="url(#m13)" />
<polygon points="6.0,1051.0 83.0,1122.0 90.0,1326.0 11.0,1248.0" fill="url(#m14)" />
<path d="M6.0,1051.0L83.0,1122.0 90.0,1326.0 11.0,1248.0Z M12.1,1065.4L81.1,1129.3 87.5,1315.5 16.8,1245.9Z" fill="#343434" fill-rule="evenodd" />
<path d="M17.0,1090.0L77.0,1138.0 78.0,1196.0 19.0,1148.0Z M23.5,1103.0L70.9,1141.0 71.7,1183.0 24.9,1145.0Z" fill="#343434" fill-rule="evenodd" stroke="#343434" stroke-width="2" stroke-linejoin="round"/>
<polygon points="83.0,1122.0 486.0,1051.0 481.0,1244.0 90.0,1326.0" fill="url(#m15)" />
<polygon points="208.0,1110.0 224.0,1107.0 226.0,1287.0 210.0,1290.0" fill="#1a1a1a" opacity="0.85"/>
<polygon points="350.0,1074.0 364.0,1071.0 366.0,1256.0 352.0,1259.0" fill="#1a1a1a" />
<path d="M83.0,1122.0L486.0,1051.0 481.0,1244.0 90.0,1326.0Z M97.2,1132.5L470.9,1065.9 466.7,1244.2 103.3,1320.2Z" fill="#2e2e2e" fill-rule="evenodd" />
<ellipse cx="118" cy="1314" rx="15" ry="7" fill="#1a1a1a"/>
<ellipse cx="440" cy="1248" rx="15" ry="7" fill="#1a1a1a"/>
<polygon points="818.0,1038.0 1205.0,971.0 1210.0,1168.0 823.0,1233.0" fill="url(#m16)" />
<polygon points="823.0,1233.0 1210.0,1168.0 1297.0,1234.0 904.0,1317.0" fill="url(#m17)" />
<line x1="818.0" y1="1038.0" x2="1205.0" y2="971.0" stroke="#1e1e1e" stroke-width="9" />
<rect x="944" y="1031" width="17" height="25" rx="7" fill="#151515"/><rect x="1079" y="1007" width="16" height="25" rx="7" fill="#151515"/>
<polygon points="1205.0,971.0 1302.0,1036.0 1297.0,1234.0 1210.0,1168.0" fill="url(#m18)" />
<path d="M1205.0,971.0L1302.0,1036.0 1297.0,1234.0 1210.0,1168.0Z M1213.5,985.6L1301.7,1045.0 1297.1,1227.9 1217.3,1167.7Z" fill="#1e1e1e" fill-rule="evenodd" />
<path d="M1216.3,1007.7L1286.9,1055.9 1285.8,1119.2 1217.5,1070.8Z M1223.0,1020.2L1280.2,1059.4 1279.5,1106.7 1223.8,1067.3Z" fill="#1e1e1e" fill-rule="evenodd" stroke="#1e1e1e" stroke-width="2" stroke-linejoin="round"/>
<polygon points="863.0,1072.0 1205.0,1012.0 1240.0,1040.0 893.0,1112.0" fill="#ededed" />
<line x1="868.0" y1="1086.0" x2="1215.0" y2="1026.0" stroke="#c4c4c4" stroke-width="1.5" />
<line x1="880.0" y1="1098.0" x2="1228.0" y2="1038.0" stroke="#c4c4c4" stroke-width="1.5" />
<g fill="#8a8a8a" font-family="Liberation Sans" font-size="11"><text transform="translate(946,1064) rotate(-9.5)">COPIC  ꟾ  ıııııııııııııııııııııı  ▬</text><text transform="translate(962,1078) rotate(-9.5)">COPIC  ꟾ  ıııııııııııııııııııııı  ▬</text><text transform="translate(978,1092) rotate(-9.5)">COPIC  ꟾ  ıııııııııııııııııııı</text></g>
<ellipse cx="868" cy="1077" rx="6" ry="7" fill="#e8a6b8"/><ellipse cx="883" cy="1092" rx="6" ry="7" fill="#3b53b8"/><ellipse cx="897" cy="1105" rx="6" ry="7" fill="#e6a43a"/>
<ellipse cx="1209" cy="1020" rx="7" ry="7" fill="#e8a6b8"/><ellipse cx="1225" cy="1033" rx="7" ry="7" fill="#3b53b8"/><ellipse cx="1238" cy="1043" rx="6" ry="5" fill="#e6a43a"/>
<polygon points="908.6,1113.5 1289.6,1048.0 1288.6,1091.6 910.2,1160.1" fill="url(#mk)" />
<line x1="910.2" y1="1160.1" x2="1288.6" y2="1091.6" stroke="#505050" stroke-width="2.2" />
<ellipse cx="921.5" cy="1135.4" rx="9" ry="20" fill="#eaa3b8"/>
<ellipse cx="1264.8" cy="1074.1" rx="9" ry="19" fill="#eaa3b8"/>
<polygon points="910.2,1160.1 1288.6,1091.6 1287.6,1133.3 911.8,1204.5" fill="url(#mk)" />
<line x1="911.8" y1="1204.5" x2="1287.6" y2="1133.3" stroke="#505050" stroke-width="2.2" />
<ellipse cx="923.1" cy="1180.8" rx="9" ry="20" fill="#e2cf3a"/>
<ellipse cx="1264.0" cy="1116.9" rx="9" ry="19" fill="#e2cf3a"/>
<polygon points="911.8,1204.5 1287.6,1133.3 1286.6,1175.0 913.4,1248.9" fill="url(#mk)" />
<line x1="913.4" y1="1248.9" x2="1286.6" y2="1175.0" stroke="#505050" stroke-width="2.2" />
<ellipse cx="924.6" cy="1225.2" rx="9" ry="20" fill="#e0483a"/>
<ellipse cx="1263.2" cy="1158.8" rx="9" ry="19" fill="#e0483a"/>
<polygon points="913.4,1248.9 1286.6,1175.0 1285.7,1214.7 915.0,1291.2" fill="url(#mk)" />
<line x1="915.0" y1="1291.2" x2="1285.7" y2="1214.7" stroke="#505050" stroke-width="2.2" />
<ellipse cx="926.1" cy="1268.5" rx="9" ry="20" fill="#5b2f90"/>
<ellipse cx="1262.4" cy="1199.6" rx="9" ry="19" fill="#5b2f90"/>
<polygon points="818.0,1038.0 896.0,1105.0 904.0,1317.0 823.0,1233.0" fill="#ffffff" />
<polygon points="820.5,1135.5 900.0,1211.0 904.0,1317.0 823.0,1233.0" fill="url(#m19)" />
<rect x="853" y="1164" width="14" height="35" fill="#7a2a2a" opacity="0.6"/><rect x="867" y="1181" width="16" height="35" fill="#2a6a3a" opacity="0.6"/><rect x="850" y="1207" width="17" height="26" fill="#2a3a7a" opacity="0.5"/>
<rect x="850" y="1120" width="20" height="34" rx="4" fill="#e6c33a"/><rect x="866" y="1132" width="14" height="32" rx="4" fill="#cf4538"/>
<polygon points="818.0,1038.0 896.0,1105.0 904.0,1317.0 823.0,1233.0" fill="url(#m20)" />
<path d="M818.0,1038.0L896.0,1105.0 904.0,1317.0 823.0,1233.0Z M824.3,1052.3L894.1,1112.8 901.3,1305.9 829.1,1231.5Z" fill="#343434" fill-rule="evenodd" />
<path d="M827.0,1083.0L888.0,1117.0 885.0,1185.0 828.0,1143.0Z M832.3,1092.0L882.5,1120.8 880.4,1174.7 832.8,1140.5Z" fill="#3a3a3a" fill-rule="evenodd" stroke="#3a3a3a" stroke-width="2" stroke-linejoin="round"/>
<polygon points="896.0,1105.0 1302.0,1036.0 1297.0,1234.0 904.0,1317.0" fill="url(#m21)" />
<polygon points="1022.0,1098.0 1039.0,1095.0 1041.0,1270.0 1024.0,1273.0" fill="#1a1a1a" opacity="0.85"/>
<polygon points="1161.0,1074.0 1179.0,1071.0 1180.0,1247.0 1163.0,1250.0" fill="#1a1a1a" opacity="0.85"/>
<path d="M896.0,1105.0L1302.0,1036.0 1297.0,1234.0 904.0,1317.0Z M910.2,1114.6L1287.9,1049.6 1283.7,1234.0 917.3,1311.2Z" fill="#2e2e2e" fill-rule="evenodd" />
<ellipse cx="930" cy="1307" rx="16" ry="7" fill="#1a1a1a"/>
<ellipse cx="1249" cy="1237" rx="16" ry="7" fill="#1a1a1a"/>
<rect x="418" y="687" width="449" height="77" rx="38.5" fill="#1e8bc4"/>
<text x="466" y="745" textLength="349" lengthAdjust="spacingAndGlyphs" font-family="Liberation Sans" font-weight="bold" font-size="63" fill="#fff">3 Adjustable</text>
<text x="487" y="810.5" textLength="308" lengthAdjust="spacingAndGlyphs" font-family="Liberation Sans" font-weight="bold" font-size="43" fill="#1e84bd">Compartments</text>
<rect x="3" y="1363" width="449" height="77" rx="38.5" fill="#1e8bc4"/>
<text x="57" y="1422" textLength="351" lengthAdjust="spacingAndGlyphs" font-family="Liberation Sans" font-weight="bold" font-size="63" fill="#fff">2 Adjustable</text>
<text x="78" y="1486.5" textLength="309" lengthAdjust="spacingAndGlyphs" font-family="Liberation Sans" font-weight="bold" font-size="43" fill="#1e84bd">Compartments</text>
<rect x="847" y="1363" width="448" height="77" rx="38.5" fill="#1e8bc4"/>
<text x="903" y="1422" textLength="348" lengthAdjust="spacingAndGlyphs" font-family="Liberation Sans" font-weight="bold" font-size="63" fill="#fff">1 Adjustable</text>
<text x="923" y="1486.5" textLength="309" lengthAdjust="spacingAndGlyphs" font-family="Liberation Sans" font-weight="bold" font-size="43" fill="#1e84bd">Compartments</text>
</svg>
<div class="t" style="left:43px;top:-10px;font-size:95px;transform:scaleY(1.025);transform-origin:0 14px"><span style="color:#1f8ac4">MORE FEATURES</span> <span style="color:#222">TO USE</span></div>
</body></html>
